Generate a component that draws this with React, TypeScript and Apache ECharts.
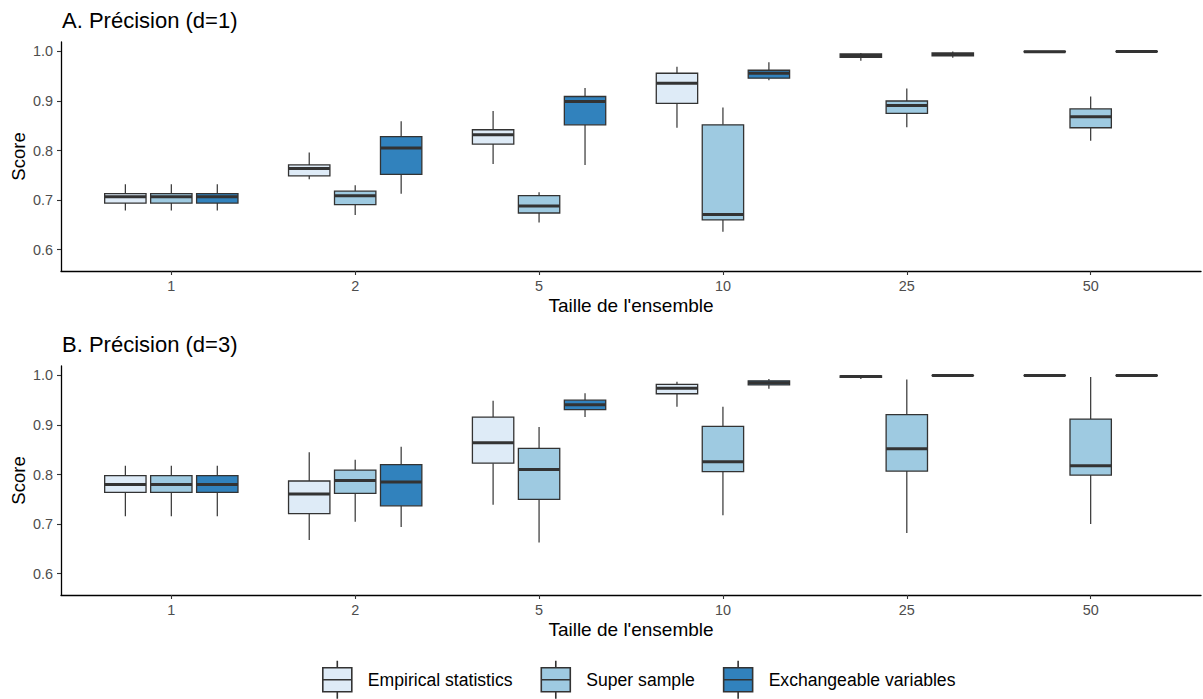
import React, { useEffect, useRef } from "react";
import * as echarts from "echarts";

const categories = ["1", "2", "5", "10", "25", "50"];
const groupNames = ["Empirical statistics", "Super sample", "Exchangeable variables"];
const groupColors = ["#DEEBF7", "#9ECAE1", "#3182BD"];
const yTicks = [0.6, 0.7, 0.8, 0.9, 1.0];

// five-number summaries per category: [low whisker, q1, median, q3, high whisker]
const d1Empirical = [
  [0.679, 0.694, 0.707, 0.713, 0.732],
  [0.742, 0.749, 0.764, 0.771, 0.796],
  [0.773, 0.813, 0.832, 0.842, 0.88],
  [0.846, 0.895, 0.936, 0.956, 0.969],
  [0.981, 0.988, 0.992, 0.995, 0.997],
  [0.998, 0.999, 0.9995, 1.0, 1.0],
];
const d1Super = [
  [0.679, 0.694, 0.707, 0.713, 0.732],
  [0.67, 0.691, 0.709, 0.718, 0.73],
  [0.655, 0.674, 0.688, 0.709, 0.716],
  [0.636, 0.66, 0.671, 0.852, 0.887],
  [0.847, 0.875, 0.891, 0.9, 0.925],
  [0.82, 0.846, 0.868, 0.884, 0.909],
];
const d1Exchangeable = [
  [0.679, 0.694, 0.707, 0.713, 0.732],
  [0.713, 0.752, 0.805, 0.828, 0.859],
  [0.771, 0.852, 0.899, 0.909, 0.926],
  [0.942, 0.946, 0.956, 0.962, 0.978],
  [0.987, 0.991, 0.994, 0.997, 1.0],
  [0.999, 0.9995, 1.0, 1.0, 1.0],
];
const d3Empirical = [
  [0.716, 0.764, 0.78, 0.798, 0.818],
  [0.668, 0.721, 0.761, 0.787, 0.845],
  [0.739, 0.823, 0.864, 0.916, 0.949],
  [0.937, 0.963, 0.974, 0.982, 0.987],
  [0.993, 0.996, 0.998, 0.999, 1.0],
  [0.999, 0.9995, 1.0, 1.0, 1.0],
];
const d3Super = [
  [0.716, 0.764, 0.78, 0.798, 0.818],
  [0.705, 0.762, 0.788, 0.809, 0.83],
  [0.663, 0.75, 0.81, 0.853, 0.896],
  [0.718, 0.806, 0.826, 0.897, 0.937],
  [0.682, 0.807, 0.852, 0.921, 0.992],
  [0.7, 0.799, 0.818, 0.912, 0.997],
];
const d3Exchangeable = [
  [0.716, 0.764, 0.78, 0.798, 0.818],
  [0.694, 0.737, 0.785, 0.82, 0.856],
  [0.916, 0.931, 0.941, 0.95, 0.964],
  [0.973, 0.981, 0.985, 0.989, 0.993],
  [0.999, 0.9995, 1.0, 1.0, 1.0],
  [0.999, 0.9995, 1.0, 1.0, 1.0],
];

const panels = [
  { title: "A. Précision (d=1)", groups: [d1Empirical, d1Super, d1Exchangeable] },
  { title: "B. Précision (d=3)", groups: [d3Empirical, d3Super, d3Exchangeable] },
];

const FONT = "'Liberation Sans', Arial, sans-serif";
const DODGE = 0.25;
const BOX_W = 0.225;
const LINE = "#333333";

const legendIcon =
  "path://M14.5,0 L14.5,7 M0,7 L29,7 L29,31 L0,31 Z M0,19 L29,19 M14.5,31 L14.5,38";

function makeRenderItem(color: string) {
  return (params: any, api: any) => {
    const x = api.value(0);
    const low = api.coord([x, api.value(1)]);
    const q1 = api.coord([x, api.value(2)]);
    const med = api.coord([x, api.value(3)]);
    const q3 = api.coord([x, api.value(4)]);
    const high = api.coord([x, api.value(5)]);
    const w = api.size([BOX_W, 0])[0];
    const cx = low[0];
    return {
      type: "group",
      children: [
        { type: "line", shape: { x1: cx, y1: high[1], x2: cx, y2: q3[1] }, style: { stroke: LINE, lineWidth: 1.2 } },
        { type: "line", shape: { x1: cx, y1: q1[1], x2: cx, y2: low[1] }, style: { stroke: LINE, lineWidth: 1.2 } },
        {
          type: "rect",
          shape: { x: cx - w / 2, y: q3[1], width: w, height: q1[1] - q3[1] },
          style: { fill: color, stroke: LINE, lineWidth: 1.3 },
        },
        { type: "line", shape: { x1: cx - w / 2, y1: med[1], x2: cx + w / 2, y2: med[1] }, style: { stroke: LINE, lineWidth: 3 } },
      ],
    };
  };
}

export default function App() {
  const ref = useRef<HTMLDivElement>(null);
  useEffect(() => {
    if (!ref.current) return;
    const chart = echarts.init(ref.current, undefined, { renderer: "svg" });
    const gridTops = [42, 366];
    const titleTops = [9, 333];
    const grids = gridTops.map((t) => ({
      left: 61,
      right: 2,
      top: t,
      height: 229,
      containLabel: false,
      outerBoundsMode: "none",
    }));
    const xAxes = panels.map((_, i) => ({
      type: "value",
      gridIndex: i,
      min: 0.4,
      max: 6.6,
      name: "Taille de l'ensemble",
      nameLocation: "middle",
      nameGap: 25,
      nameMoveOverlap: false,
      nameTextStyle: { fontFamily: FONT, fontSize: 19, color: "#000" },
      axisLine: { show: true, onZero: false, lineStyle: { color: "#000", width: 1.3 } },
      axisTick: { show: true, length: 4, customValues: categories.map((_, k) => k + 1), lineStyle: { color: LINE, width: 1.1 } },
      axisLabel: {
        customValues: categories.map((_, k) => k + 1),
        formatter: (v: number) => categories[Math.round(v) - 1] ?? "",
        fontFamily: FONT,
        fontSize: 14.4,
        color: "#4D4D4D",
        margin: 8,
      },
      splitLine: { show: false },
    }));
    const yAxes = panels.map((_, i) => ({
      type: "value",
      gridIndex: i,
      min: 0.557,
      max: 1.019,
      name: "Score",
      nameLocation: "middle",
      nameGap: 33,
      nameMoveOverlap: false,
      nameTextStyle: { fontFamily: FONT, fontSize: 18.5, color: "#000" },
      axisLine: { show: true, onZero: false, lineStyle: { color: "#000", width: 1.3 } },
      axisTick: { show: true, length: 4, customValues: yTicks, lineStyle: { color: LINE, width: 1.1 } },
      axisLabel: {
        customValues: yTicks,
        formatter: (v: number) => v.toFixed(1),
        fontFamily: FONT,
        fontSize: 14.4,
        color: "#4D4D4D",
        margin: 8,
      },
      splitLine: { show: false },
    }));
    const series: any[] = [];
    panels.forEach((p, pi) => {
      p.groups.forEach((g, gi) => {
        series.push({
          type: "custom",
          name: groupNames[gi],
          xAxisIndex: pi,
          yAxisIndex: pi,
          itemStyle: { color: groupColors[gi], borderColor: LINE, borderWidth: 1.3 },
          renderItem: makeRenderItem(groupColors[gi]),
          encode: { x: 0, y: [1, 2, 3, 4, 5] },
          data: g.map((v, ci) => [ci + 1 + (gi - 1) * DODGE, ...v]),
          clip: false,
        });
      });
    });
    chart.setOption({
      animation: false,
      backgroundColor: "#fff",
      title: panels.map((p, i) => ({
        text: p.title,
        left: 62,
        top: titleTops[i],
        padding: 0,
        textStyle: { fontFamily: FONT, fontSize: 22, fontWeight: "normal", color: "#000" },
      })),
      legend: {
        left: 322,
        top: 660,
        padding: 0,
        itemGap: 28,
        itemWidth: 29,
        itemHeight: 38,
        selectedMode: false,
        data: groupNames.map((n, i) => ({
          name: n,
          icon: legendIcon,
          itemStyle: { color: groupColors[i], borderColor: LINE, borderWidth: 1.6 },
        })),
        formatter: (n: string) => `{t|${n}}`,
        textStyle: {
          rich: { t: { fontFamily: FONT, fontSize: 17.6, color: "#000", padding: [0, 0, 0, 11] } },
        },
      },
      grid: grids,
      xAxis: xAxes,
      yAxis: yAxes,
      series,
    });
    return () => chart.dispose();
  }, []);
  return <div ref={ref} style={{ position: "absolute", left: 0, top: 0, width: 1203, height: 699 }} />;
}
